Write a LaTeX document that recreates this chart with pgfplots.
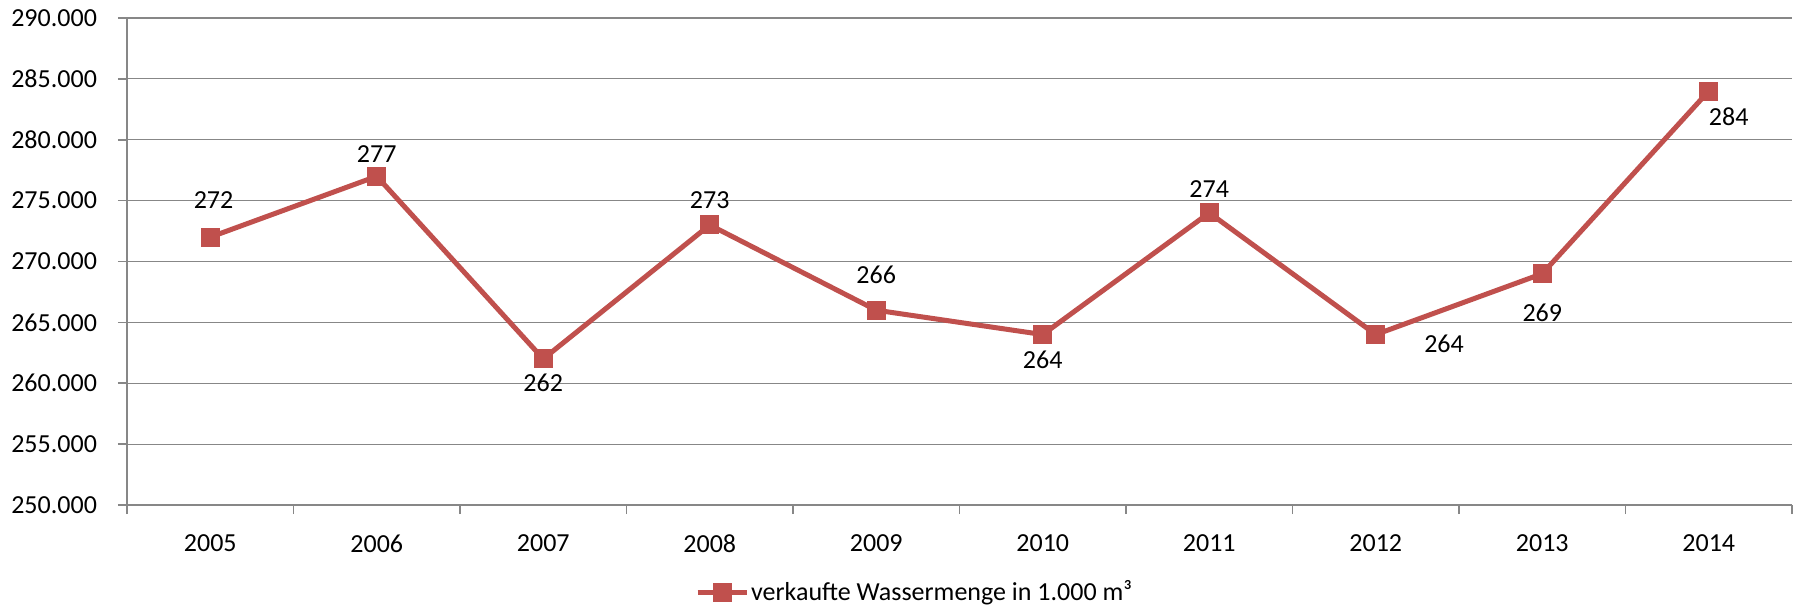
\documentclass[border=0pt]{standalone}
\usepackage{pgfplots}
\pgfplotsset{compat=1.18}
\usepackage{fontspec}
\setmainfont{Carlito}
\definecolor{exred}{HTML}{C0504D}
\definecolor{exgrid}{HTML}{878787}
\begin{document}
\fontsize{13pt}{15pt}\selectfont
\begin{tikzpicture}[font=\fontsize{13pt}{15pt}\selectfont]
\begin{axis}[
  scale only axis,
  width=832.5pt, height=243.5pt,
  xmin=-0.5, xmax=9.5, ymin=250, ymax=290,
  axis lines*=left,
  axis line style={exgrid, line width=1pt},
  every outer x axis line/.append style={-},
  every outer y axis line/.append style={-},
  xtick={0,...,9},
  xticklabels={2005,2006,2007,2008,2009,2010,2011,2012,2013,2014},
  major x tick style={draw=none},
  minor xtick={-0.5,0.5,...,9.5},
  minor x tick style={exgrid, line width=0.8pt},
  ytick={250,255,...,290},
  yticklabels={250.000,255.000,260.000,265.000,270.000,275.000,280.000,285.000,290.000},
  y tick style={exgrid, line width=0.8pt},
  tick align=outside,
  major tick length=4.5pt, minor tick length=4.5pt,
  ymajorgrids,
  major grid style={exgrid, line width=0.6pt},
  xticklabel style={font=\fontsize{13pt}{15pt}\selectfont, yshift=-6pt},
  yticklabel style={font=\fontsize{13pt}{15pt}\selectfont, xshift=-6pt},
  clip=false,
  legend style={at={(0.473,-0.18)}, anchor=center, draw=none, fill=none,
    font=\fontsize{13pt}{15pt}\selectfont, inner sep=0pt,
    nodes={inner xsep=1pt}},
  legend image code/.code={
    \draw[#1, mark repeat=2, mark phase=2] plot coordinates {(0pt,0pt) (12.25pt,0pt) (24.5pt,0pt)};},
  every node/.append style={font=\fontsize{13pt}{15pt}\selectfont},
]
\addplot[exred, line width=2.5pt, mark=square*, mark size=4.5pt,
  mark options={solid, line width=0pt, fill=exred}] coordinates {
  (0,272) (1,277) (2,262) (3,273) (4,266) (5,264) (6,274) (7,264) (8,269) (9,284)
};
\addlegendentry{verkaufte Wassermenge in 1.000 m³}
\node at (axis cs:0.02,275.04) {272};
\node at (axis cs:1,278.8) {277};
\node at (axis cs:2,260.07) {262};
\node at (axis cs:3,275.04) {273};
\node at (axis cs:4,268.92) {266};
\node at (axis cs:5,261.95) {264};
\node at (axis cs:6,275.98) {274};
\node at (axis cs:7.41,263.27) {264};
\node at (axis cs:8,265.81) {269};
\node at (axis cs:9.12,281.9) {284};
\end{axis}
\pgfresetboundingbox
\path[use as bounding box] ([xshift=-63.5pt,yshift=-53.5pt]current axis.south west) rectangle ([xshift=1.5pt,yshift=9pt]current axis.north east);
\end{tikzpicture}
\end{document}
